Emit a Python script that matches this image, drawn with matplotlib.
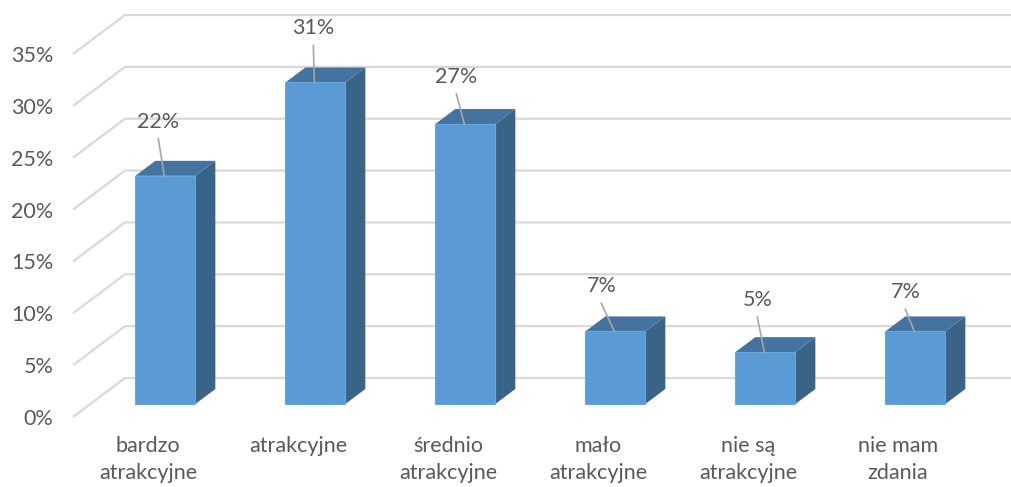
import matplotlib
matplotlib.use("Agg")
import matplotlib.pyplot as plt
from matplotlib.patches import Polygon

# Dane
kategorie = ["bardzo\natrakcyjne", "atrakcyjne", "średnio\natrakcyjne",
             "mało\natrakcyjne", "nie są\natrakcyjne", "nie mam\nzdania"]
wartosci = [22, 31, 27, 7, 5, 7]
poziomy = [0, 5, 10, 15, 20, 25, 30, 35]

# Przesunięcia etykiet (piksele): etykieta dx, dy
etykiety_off = [(-7, 54), (-2, 54), (-9, 47), (-14, 45), (-8, 52), (-10, 39)]

W, H = 1011, 487
PX_X = 150.0          # pikseli na kategorię
PX_Y = 10.371         # pikseli na 1%
x0_px, y0_px = 73, 417

# głębokość 3D: pełna ściana (52 px w prawo, 39 px w górę)
DX = 52 / PX_X
DY = 39 / PX_Y
d_front, d_back = 1 / 3, 1 / 3 + 20 / 52
szer = 60 / PX_X

tekst = "#595959"
siatka = "#D9D9D9"
c_front, c_top, c_side = "#5B9BD5", "#4473A0", "#3A6388"
rozmiar = 15.5

plt.rcParams['font.family'] = ['Lato', 'DejaVu Sans']

fig = plt.figure(figsize=(W / 100, H / 100), dpi=100)
ax = fig.add_axes([x0_px / W, (H - y0_px) / H, 900 / W, y0_px / H])
ax.set_xlim(-0.5, len(kategorie) - 0.5)
ax.set_ylim(0, y0_px / PX_Y)
for s in ax.spines.values():
    s.set_visible(False)


def proj(x, y, d):
    return (x + d * DX, y + d * DY)


# Linie siatki: skos po lewej i tylna ściana
x_lewy, x_prawy = -0.5, len(kategorie) - 0.5
for v in poziomy:
    p1 = proj(x_lewy, v, 0)
    p2 = proj(x_lewy, v, 1)
    p3 = proj(x_prawy + 1, v, 1)
    ax.plot([p1[0], p2[0], p3[0]], [p1[1], p2[1], p3[1]], color=siatka,
            lw=1.6, clip_on=False, zorder=1, solid_capstyle='butt')

# Słupki 3D
for i, v in enumerate(wartosci):
    xl, xr = i - szer / 2, i + szer / 2
    front = [proj(xl, 0, d_front), proj(xr, 0, d_front),
             proj(xr, v, d_front), proj(xl, v, d_front)]
    top = [proj(xl, v, d_front), proj(xr, v, d_front),
           proj(xr, v, d_back), proj(xl, v, d_back)]
    side = [proj(xr, 0, d_front), proj(xr, 0, d_back),
            proj(xr, v, d_back), proj(xr, v, d_front)]
    ax.add_patch(Polygon(side, closed=True, fc=c_side, ec="none", zorder=3, clip_on=False))
    ax.add_patch(Polygon(top, closed=True, fc=c_top, ec="none", zorder=3, clip_on=False))
    ax.add_patch(Polygon(front, closed=True, fc=c_front, ec="#6AA6DC", lw=0.8,
                         zorder=4, clip_on=False))

    # etykieta z linią odniesienia
    cx, cy = proj(i, v, d_front)
    dx, dy = etykiety_off[i]
    lx = cx + dx / PX_X
    ax.plot([lx, cx - 1 / PX_X], [cy + (dy - 17) / PX_Y, cy], color="#A6A6A6",
            lw=1.2, zorder=5, clip_on=False)
    ax.text(lx, cy + dy / PX_Y, f"{v}%", ha="center", va="center",
            fontsize=rozmiar, color=tekst, zorder=6)

# Osie
ax.set_yticks(poziomy)
ax.set_yticklabels([f"{p}%" for p in poziomy])
ax.set_xticks(range(len(kategorie)))
ax.set_xticklabels(kategorie, linespacing=1.4)
ax.tick_params(axis="y", length=0, pad=14, labelsize=rozmiar, labelcolor=tekst)
ax.tick_params(axis="x", length=0, pad=14, labelsize=rozmiar, labelcolor=tekst)

fig.savefig("out.png", dpi=100, facecolor="white")
